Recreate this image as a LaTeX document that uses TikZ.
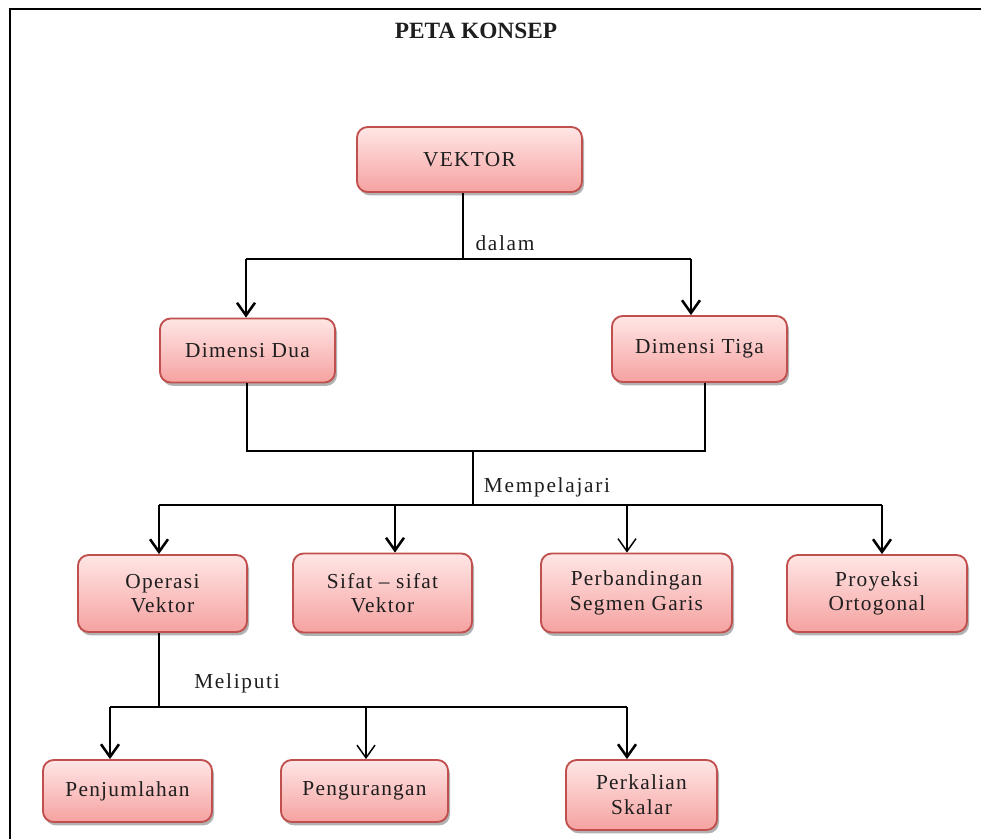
\documentclass[tikz,border=0pt]{standalone}
\usepackage{fontspec}
\setmainfont{Liberation Serif}
\newfontfamily\boxfont{Liberation Serif}[LetterSpace=6]
\newfontfamily\labelfont{Liberation Serif}[LetterSpace=8]
\usetikzlibrary{arrows.meta,shadows}
\definecolor{boxedge}{RGB}{192,80,77}
\definecolor{boxtop}{RGB}{255,230,230}
\definecolor{boxbottom}{RGB}{245,162,160}
\definecolor{ink}{RGB}{30,30,30}
\tikzset{
  box/.style={rectangle, rounded corners=8pt, draw=boxedge, line width=1.4pt,
    top color=boxtop, bottom color=boxbottom, inner sep=0pt, align=center,
    text=ink, font=\boxfont\fontsize{16}{18.5}\selectfont,
    drop shadow={shadow xshift=1.5pt, shadow yshift=-2.5pt, fill=black, opacity=0.3}},
  link/.style={line width=1.9pt, black},
  thinlink/.style={line width=1.1pt, black},
  arr/.style={-{Straight Barb[length=9.5pt,width=13.5pt]}},
  lbl/.style={font=\labelfont\fontsize{16}{18}\selectfont, text=ink, inner sep=0pt},
}
\begin{document}
\begin{tikzpicture}[x=0.75pt,y=-0.75pt]
\useasboundingbox (0,0) rectangle (981,839);
% page frame (top and left edges)
\draw[line width=2.2pt] (10,839) -- (10,9) -- (981,9);

\node[font=\bfseries\fontsize{17.5}{20}\selectfont, text=ink] (title) at (476,31) {PETA KONSEP};

% concept boxes
\node[box, minimum width=168.75pt, minimum height=48.75pt] (vektor)  at (469.5,159.5) {VEKTOR};
\node[box, minimum width=131.25pt, minimum height=48pt]    (dua)     at (247.5,350.5) {Dimensi Dua};
\node[box, minimum width=131.25pt, minimum height=49.5pt]  (tiga)    at (699.5,349)   {Dimensi Tiga};
\node[box, minimum width=126.75pt, minimum height=57.75pt] (operasi) at (162.5,593.5) {Operasi\\Vektor};
\node[box, minimum width=134.25pt, minimum height=59.25pt] (sifat)   at (382.5,593)   {Sifat – sifat\\Vektor};
\node[box, minimum width=143.25pt, minimum height=59.25pt] (perb)    at (636.5,593)   {Perbandingan\\Segmen Garis};
\node[box, minimum width=135pt,    minimum height=57.75pt] (proy)    at (877,593.5)   {Proyeksi\\Ortogonal};
\node[box, minimum width=126.75pt, minimum height=46.5pt]  (penj)    at (127.5,791)   {Penjumlahan};
\node[box, minimum width=125.25pt, minimum height=46.5pt]  (peng)    at (364.5,791)   {Pengurangan};
\node[box, minimum width=113.25pt, minimum height=52.5pt]  (perk)    at (641.5,795)   {Perkalian\\Skalar};

% VEKTOR -> dimensions
\coordinate (a0) at (463,259);
\coordinate (aL) at (246,259);
\coordinate (aR) at (691,259);
\draw[link] (vektor.south -| a0) -- (a0);
\draw[link] (aL) -- (aR);
\draw[link,arr] (aL) -- (aL |- dua.north);
\draw[link,arr] (aR) -- (aR |- tiga.north);
\node[lbl] (dalam) at (505,243) {dalam};

% dimensions -> topics
\coordinate (bL) at (247,451);
\coordinate (bR) at (705,451);
\coordinate (bM) at (473,451);
\coordinate (cM) at (473,505);
\draw[link] (dua.south -| bL) -- (bL) -- (bR) -- (tiga.south -| bR);
\draw[link] (bM) -- (cM);
\node[lbl] (mempelajari) at (547,487) {Mempelajari};
\coordinate (c1) at (159,505);
\coordinate (c2) at (395,505);
\coordinate (c3) at (627,505);
\coordinate (c4) at (882,505);
\draw[link] (c1) -- (c4);
\draw[link,arr] (c1) -- (c1 |- operasi.north);
\draw[link,arr] (c2) -- (c2 |- sifat.north);
\draw[thinlink,arr] (c3) -- (c3 |- perb.north);
\draw[link,arr] (c4) -- (c4 |- proy.north);

% operations
\coordinate (d0) at (159,707);
\coordinate (d1) at (110,707);
\coordinate (d2) at (366,707);
\coordinate (d3) at (627,707);
\draw[link] (operasi.south -| d0) -- (d0);
\draw[link] (d1) -- (d3);
\node[lbl] (meliputi) at (237,683) {Meliputi};
\draw[link,arr] (d1) -- (d1 |- penj.north);
\draw[thinlink,arr] (d2) -- (d2 |- peng.north);
\draw[link,arr] (d3) -- (d3 |- perk.north);
\end{tikzpicture}
\end{document}
